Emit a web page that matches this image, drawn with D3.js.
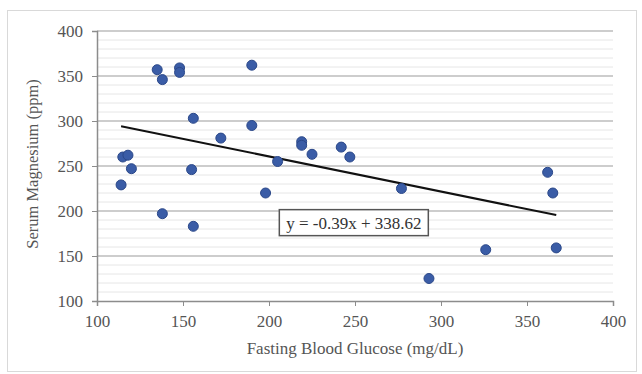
<!DOCTYPE html>
<html>
<head>
<meta charset="utf-8">
<script src="https://cdn.jsdelivr.net/npm/d3@7"></script>
<style>
	body { margin: 0; background: #fff; }
	svg { display: block; font-family: "Liberation Serif", "Times New Roman", serif; }
</style>
</head>
<body>
<svg width="642" height="374"></svg>
<script>
// fasting blood glucose (mg/dL) vs serum magnesium (ppm)
var glucose = [114, 115, 118, 120, 135, 138, 138, 148, 148, 155, 156, 156, 172, 190,
	190, 198, 205, 219, 219, 225, 242, 247, 277, 293, 326, 362, 365, 367];
var magnesium = [229, 260, 262, 247, 357, 346, 197, 359, 354, 246, 303, 183, 281, 362,
	295, 220, 255, 277, 273, 263, 271, 260, 225, 125, 157, 243, 220, 159];
var xTicks = [100, 150, 200, 250, 300, 350, 400];
var yTicks = [100, 150, 200, 250, 300, 350, 400];
var trend = [-0.39, 338.62]; // slope, intercept
var trendLabel = "y = -0.39x + 338.62";

(function () {
	var svg = d3.select("svg");
	var margin = {top: 31, right: 29, bottom: 73, left: 97},
		width = +svg.attr("width") - margin.left - margin.right,
		height = +svg.attr("height") - margin.top - margin.bottom;

	// outer chart border
	svg.append("rect")
		.attr("x", 7.5).attr("y", 10.5)
		.attr("width", 629).attr("height", 361)
		.attr("fill", "none")
		.attr("stroke", "#d9d9d9");

	var g = svg.append("g").attr("transform", "translate(" + margin.left + "," + margin.top + ")");

	var x = d3.scaleLinear().domain([100, 400]).range([0, width]);
	var y = d3.scaleLinear().domain([100, 400]).range([height, 0]);

	// minor gridlines every 10
	g.append("g")
		.selectAll("line")
		.data(d3.range(110, 400, 10).filter(function (d) { return d % 50 != 0; }))
		.enter().append("line")
		.attr("x1", 0).attr("x2", width)
		.attr("y1", function (d) { return y(d); })
		.attr("y2", function (d) { return y(d); })
		.attr("stroke", "#e6e6e6")
		.attr("stroke-width", 1);

	// major gridlines
	g.append("g")
		.selectAll("line")
		.data(yTicks.slice(1))
		.enter().append("line")
		.attr("x1", 0).attr("x2", width)
		.attr("y1", function (d) { return y(d); })
		.attr("y2", function (d) { return y(d); })
		.attr("stroke", "#bdbdbd")
		.attr("stroke-width", 1.5);

	var xAxis = g.append("g")
		.attr("transform", "translate(0," + height + ")")
		.call(d3.axisBottom(x).tickValues(xTicks).tickSize(5).tickPadding(9));

	var yAxis = g.append("g")
		.call(d3.axisLeft(y).tickValues(yTicks).tickSize(5).tickPadding(9));

	[xAxis, yAxis].forEach(function (a) {
		a.select(".domain").attr("stroke", "#8c8c8c").attr("stroke-width", 1.5);
		a.selectAll(".tick line").attr("stroke", "#8c8c8c");
		a.selectAll(".tick text")
			.attr("fill", "#555")
			.style("font-size", "17px")
			.style("font-family", "Liberation Serif, serif");
	});

	// trend line over the data's x range
	var xr = d3.extent(glucose);
	g.append("line")
		.attr("x1", x(xr[0])).attr("y1", y(trend[0] * xr[0] + trend[1]))
		.attr("x2", x(xr[1])).attr("y2", y(trend[0] * xr[1] + trend[1]))
		.attr("stroke", "#111")
		.attr("stroke-width", 2);

	g.selectAll(".dot")
		.data(glucose)
		.enter().append("circle")
		.attr("class", "dot")
		.attr("cx", function (d) { return x(d); })
		.attr("cy", function (d, i) { return y(magnesium[i]); })
		.attr("r", 5)
		.attr("fill", "#3a5ca6")
		.attr("stroke", "#2b4889")
		.attr("stroke-width", 1);

	// equation label
	var lab = g.append("g").attr("transform", "translate(" + x(206) + "," + y(201.5) + ")");
	lab.append("rect")
		.attr("x", 0).attr("y", 0)
		.attr("width", 149).attr("height", 26)
		.attr("fill", "#fff")
		.attr("stroke", "#555")
		.attr("stroke-width", 1.5);
	lab.append("text")
		.attr("x", 74.5).attr("y", 19)
		.attr("text-anchor", "middle")
		.attr("fill", "#333")
		.style("font-size", "17px")
		.text(trendLabel);

	svg.append("text")
		.attr("x", margin.left + width / 2).attr("y", 354)
		.attr("text-anchor", "middle")
		.attr("fill", "#555")
		.style("font-size", "17px")
		.text("Fasting Blood Glucose (mg/dL)");

	svg.append("text")
		.attr("transform", "rotate(-90)")
		.attr("x", -164).attr("y", 38)
		.attr("text-anchor", "middle")
		.attr("fill", "#555")
		.style("font-size", "16.5px")
		.text("Serum Magnesium (ppm)");
})();
</script>
</body>
</html>
